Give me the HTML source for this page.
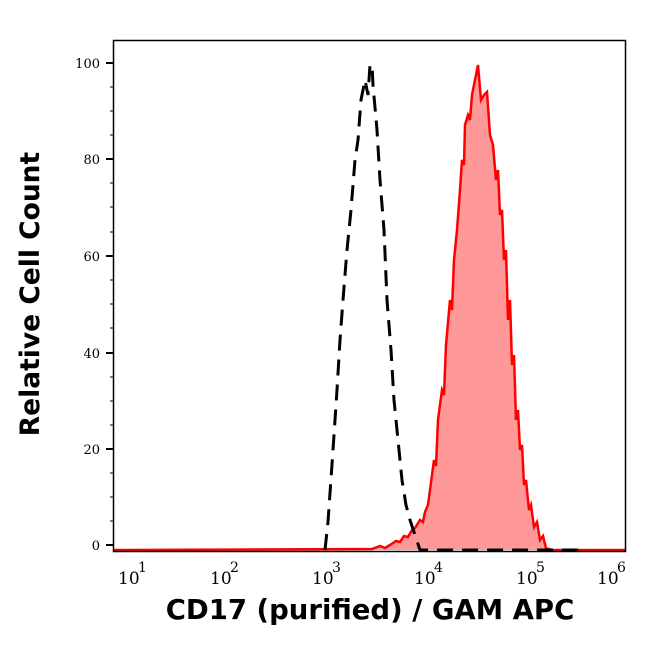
<!DOCTYPE html>
<html><head><meta charset="utf-8"><style>
body{margin:0;background:#fff;}
svg text{font-family:"DejaVu Serif","Liberation Serif",serif;}
</style></head><body>
<svg width="646" height="641" viewBox="0 0 646 641" xmlns="http://www.w3.org/2000/svg">
<rect width="646" height="641" fill="#fff"/>
<polygon fill="#ff9999" stroke="none" points="114,550 372,549 380,546 385,548 390,545 396,541 400,542 404,536 408,537 412,530 415,528 420,520 423,522 425,512 428,505 430,490 434,460 436,466 438,420 442,390 444,395 446,345 450,300 452,310 454,260 457,230 460,190 462,160 464,165 465,125 468,115 470,120 472,95 475,80 478,65 481,100 484,95 487,92 490,135 493,145 496,180 498,170 500,215 502,210 504,260 506,250 508,320 510,300 512,365 514,355 516,420 518,410 520,450 522,445 524,485 526,480 529,510 531,505 534,527 537,522 540,540 543,536 546,548 552,550 626,550"/>
<polyline fill="none" stroke="#ff0000" stroke-width="2.5" points="114,550 372,549 380,546 385,548 390,545 396,541 400,542 404,536 408,537 412,530 415,528 420,520 423,522 425,512 428,505 430,490 434,460 436,466 438,420 442,390 444,395 446,345 450,300 452,310 454,260 457,230 460,190 462,160 464,165 465,125 468,115 470,120 472,95 475,80 478,65 481,100 484,95 487,92 490,135 493,145 496,180 498,170 500,215 502,210 504,260 506,250 508,320 510,300 512,365 514,355 516,420 518,410 520,450 522,445 524,485 526,480 529,510 531,505 534,527 537,522 540,540 543,536 546,548 552,550 626,550"/>
<polyline fill="none" stroke="#000" stroke-width="3" stroke-dasharray="16,9" points="325,550 328,522 333,450 337,390 340,340 343,300 347,250 351,210 355,160 358,140 361,100 365,80 368,95 370,65 372,65 373,85 377,130 380,180 384,230 387,300 391,350 394,400 398,440 402,480 406,505 410,520 415,535 420,550 580,550"/>
<rect x="113.5" y="40.5" width="512" height="511" fill="none" stroke="#000" stroke-width="1.5"/>
<g stroke="#000" stroke-width="2">
<line x1="106" y1="63" x2="113" y2="63"/><line x1="106" y1="159" x2="113" y2="159"/><line x1="106" y1="256" x2="113" y2="256"/><line x1="106" y1="353" x2="113" y2="353"/><line x1="106" y1="449" x2="113" y2="449"/><line x1="106" y1="545" x2="113" y2="545"/>
</g>
<g stroke="#000" stroke-width="1">
<line x1="110" y1="87" x2="113" y2="87"/><line x1="110" y1="111" x2="113" y2="111"/><line x1="110" y1="135" x2="113" y2="135"/>
<line x1="110" y1="183" x2="113" y2="183"/><line x1="110" y1="207" x2="113" y2="207"/><line x1="110" y1="232" x2="113" y2="232"/>
<line x1="110" y1="280" x2="113" y2="280"/><line x1="110" y1="304" x2="113" y2="304"/><line x1="110" y1="328" x2="113" y2="328"/>
<line x1="110" y1="377" x2="113" y2="377"/><line x1="110" y1="401" x2="113" y2="401"/><line x1="110" y1="425" x2="113" y2="425"/>
<line x1="110" y1="473" x2="113" y2="473"/><line x1="110" y1="497" x2="113" y2="497"/><line x1="110" y1="521" x2="113" y2="521"/>
</g>
<g font-size="13" text-anchor="end" fill="#000">
<text x="100" y="68">100</text><text x="100" y="164">80</text><text x="100" y="261">60</text><text x="100" y="358">40</text><text x="100" y="454">20</text><text x="100" y="550">0</text>
</g>
<g id="xt" stroke="#000"></g>
<g font-size="17" fill="#000">
<text x="118" y="584">10</text><text x="138" y="572" font-size="14">1</text>
<text x="210" y="584">10</text><text x="230" y="572" font-size="14">2</text>
<text x="312" y="584">10</text><text x="332" y="572" font-size="14">3</text>
<text x="414" y="584">10</text><text x="434" y="572" font-size="14">4</text>
<text x="516" y="584">10</text><text x="536" y="572" font-size="14">5</text>
<text x="597" y="584">10</text><text x="617" y="572" font-size="14">6</text>
</g>
<text x="370" y="619" text-anchor="middle" font-weight="bold" font-size="27.5" style="font-family:'DejaVu Sans',sans-serif">CD17 (purified) / GAM APC</text>
<text transform="translate(39,294) rotate(-90)" text-anchor="middle" font-weight="bold" font-size="26.5" style="font-family:'DejaVu Sans',sans-serif">Relative Cell Count</text>
<script>
var g=document.getElementById('xt'),s='';
for(var d=0;d<=5;d++){var x0=114+d*102.6;
s+='<line x1="'+x0+'" y1="551" x2="'+x0+'" y2="559" stroke-width="2"/>';
if(d<5)for(var k=2;k<10;k++){var x=x0+Math.log10(k)*102.6;s+='<line x1="'+x+'" y1="551" x2="'+x+'" y2="555" stroke-width="1"/>';}}
g.innerHTML=s;
</script>
</svg>
</body></html>
